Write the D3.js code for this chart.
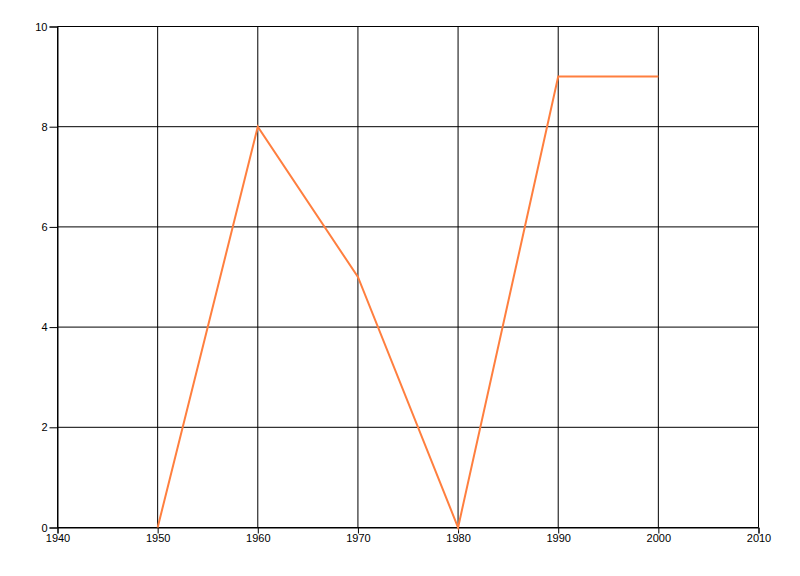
<!DOCTYPE html>
<html><head><meta charset="utf-8">
<script src="https://cdn.jsdelivr.net/npm/d3@7"></script>
<style>body{margin:0;background:#fff}svg{display:block}text{font-family:"Liberation Sans","DejaVu Sans",sans-serif;font-size:11px;fill:#000}</style>
</head><body>
<script>
const years = [1950, 1960, 1970, 1980, 1990, 2000];
const values = [0, 8, 5, 0, 9, 9];
const xTicks = [1940, 1950, 1960, 1970, 1980, 1990, 2000, 2010];
const yTicks = [0, 2, 4, 6, 8, 10];

const W = 800, H = 576;
const m = {left: 57.5, right: 41.5, top: 26.5, bottom: 48.5};
const svg = d3.select("body").append("svg").attr("width", W).attr("height", H);
const x = d3.scaleLinear().domain([1940, 2010]).range([m.left, W - m.right]);
const y = d3.scaleLinear().domain([0, 10]).range([H - m.bottom, m.top]);

// grid
svg.append("g").selectAll("line").data(xTicks).join("line")
  .attr("x1", d => x(d)).attr("x2", d => x(d)).attr("y1", y(0)).attr("y2", y(10))
  .attr("stroke", "#000").attr("stroke-width", 1);
svg.append("g").selectAll("line").data(yTicks).join("line")
  .attr("x1", x(1940)).attr("x2", x(2010)).attr("y1", d => y(d)).attr("y2", d => y(d))
  .attr("stroke", "#000").attr("stroke-width", 1);

const xAxis = svg.append("g").attr("transform", `translate(0,${y(0)})`)
  .call(d3.axisBottom(x).tickValues(xTicks).tickFormat(d3.format("d")).tickSize(6).tickPadding(1));
const yAxis = svg.append("g").attr("transform", `translate(${x(1940)},0)`)
  .call(d3.axisLeft(y).tickValues(yTicks).tickSize(8).tickPadding(2));
[xAxis, yAxis].forEach(a => {
  a.select(".domain").attr("stroke", "#000");
  a.selectAll(".tick line").attr("stroke", "#000");
  a.selectAll("text").attr("fill", "#000").style("font-size", "11px").style("font-family", '"Liberation Sans","DejaVu Sans",sans-serif');
});

const line = d3.line().x((d, i) => x(years[i])).y(d => y(d));
svg.append("path").datum(values).attr("d", line)
  .attr("fill", "none").attr("stroke", "#FF7F3F").attr("stroke-width", 2).attr("stroke-linejoin", "miter");
</script>
</body></html>
